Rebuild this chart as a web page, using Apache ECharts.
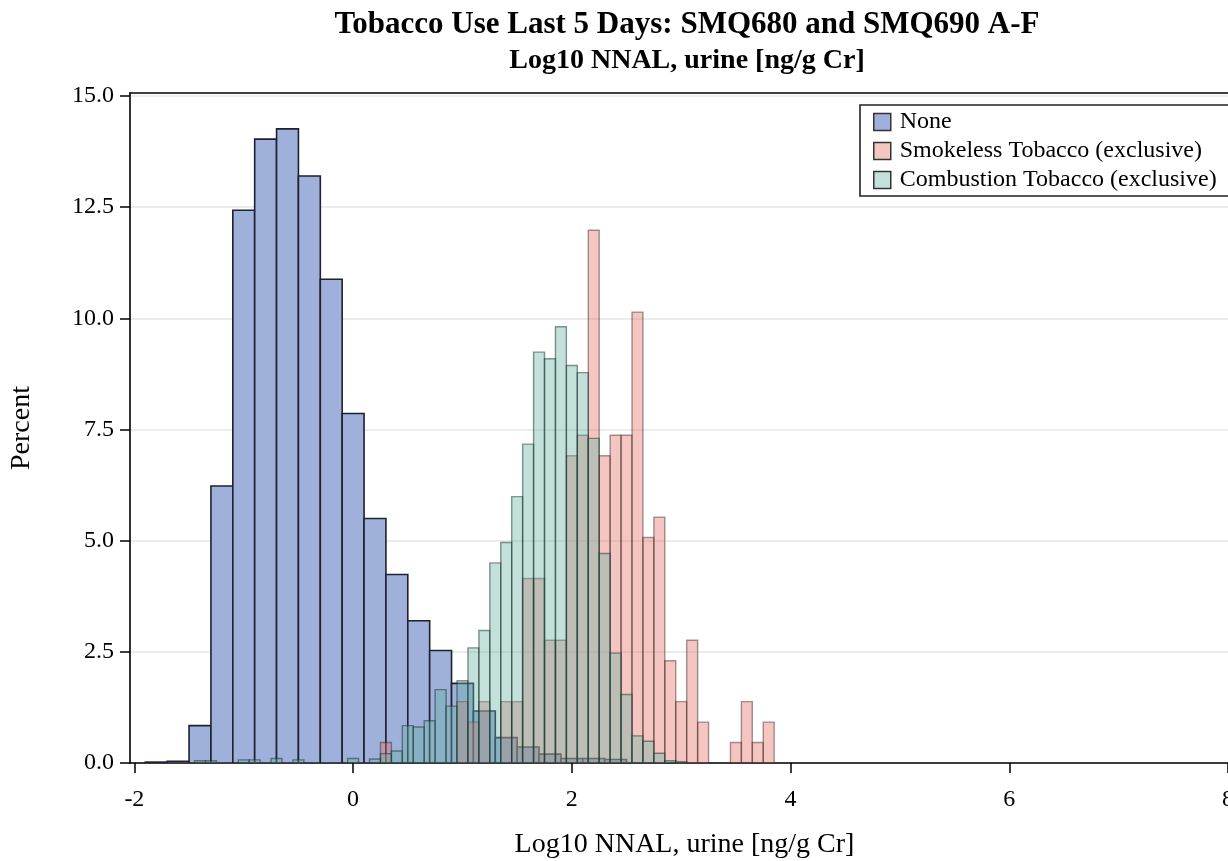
<!DOCTYPE html>
<html>
<head>
<meta charset="utf-8">
<script src="https://cdn.jsdelivr.net/npm/echarts@6/dist/echarts.min.js"></script>
<style>
html,body{margin:0;padding:0;background:#fff;overflow:hidden;}
#chart{width:1228px;height:861px;}
</style>
</head>
<body>
<div id="chart"></div>
<script>
// ---- data (bin centers, percent) ----
const noneBinWidth = 0.2;
const noneCenters = [-1.8,-1.6,-1.4,-1.2,-1.0,-0.8,-0.6,-0.4,-0.2,0.0,0.2,0.4,0.6,0.8,1.0,1.2,1.4,1.6,1.8,2.0,2.2,2.4];
const noneValues  = [0.02,0.04,0.84,6.23,12.43,14.03,14.26,13.2,10.88,7.86,5.5,4.24,3.2,2.53,1.79,1.17,0.57,0.36,0.2,0.1,0.1,0.08];

const smokelessBinWidth = 0.1;
const smokelessCenters = [0.3,1.0,1.1,1.2,1.4,1.5,1.6,1.7,1.8,1.9,2.0,2.1,2.2,2.3,2.4,2.5,2.6,2.7,2.8,2.9,3.0,3.1,3.2,3.5,3.6,3.7,3.8];
const smokelessValues  = [0.46,1.38,0.92,1.38,1.38,1.38,4.15,4.15,2.76,2.76,6.91,7.37,11.98,6.91,7.37,7.37,10.14,5.07,5.53,2.30,1.38,2.76,0.92,0.46,1.38,0.46,0.92];

const combustionBinWidth = 0.1;
const combustionCenters = [-1.4,-1.3,-1.0,-0.9,-0.7,-0.5,0.0,0.2,0.3,0.4,0.5,0.6,0.7,0.8,0.9,1.0,1.1,1.2,1.3,1.4,1.5,1.6,1.7,1.8,1.9,2.0,2.1,2.2,2.3,2.4,2.5,2.6,2.7,2.8,2.9,3.0];
const combustionValues  = [0.05,0.05,0.07,0.07,0.1,0.07,0.1,0.09,0.21,0.27,0.84,0.81,0.95,1.65,1.28,1.85,2.59,2.98,4.5,4.96,5.99,7.17,9.24,9.09,9.81,8.94,8.78,7.30,4.71,2.47,1.54,0.61,0.49,0.22,0.05,0.03];

const xTickValues = [-2,0,2,4,6,8];
const yTickValues = [0,2.5,5,7.5,10,12.5,15];

const seriesNames = ['None','Smokeless Tobacco (exclusive)','Combustion Tobacco (exclusive)'];

function bins(centers, values, w){
  return centers.map((c,i)=>[c - w/2, c + w/2, values[i]]);
}

const FONT = 'Liberation Serif, Times New Roman, serif';

const styles = [
  {fill:'#9fb1da', stroke:'#1e2130', lineWidth:1.6},
  {fill:'rgba(230,113,100,0.40)', stroke:'rgba(50,30,30,0.45)', lineWidth:1.4},
  {fill:'rgba(105,177,165,0.40)', stroke:'rgba(20,45,40,0.5)', lineWidth:1.4}
];
const legendColors = ['#9fb1da','#f4c6c1','#c3e0db'];

function histSeries(name, data, st){
  return {
    type:'custom',
    name:name,
    clip:true,
    encode:{x:[0,1], y:2},
    data:data,
    itemStyle:{color:st.fill, borderColor:st.stroke, borderWidth:st.lineWidth},
    renderItem:function(params, api){
      const p0 = api.coord([api.value(0), api.value(2)]);
      const p1 = api.coord([api.value(1), 0]);
      return {
        type:'rect',
        shape:{x:p0[0], y:p0[1], width:p1[0]-p0[0], height:p1[1]-p0[1]},
        style:{fill:st.fill, stroke:st.stroke, lineWidth:st.lineWidth}
      };
    }
  };
}

const chart = echarts.init(document.getElementById('chart'), null, {renderer:'canvas'});
chart.setOption({
  animation:false,
  backgroundColor:'#fff',
  title:[
    {text:'Tobacco Use Last 5 Days: SMQ680 and SMQ690 A-F', left:682, top:4, textAlign:'center',
     textStyle:{fontFamily:FONT, fontSize:31, fontWeight:'bold', color:'#000'}},
    {text:'Log10 NNAL, urine [ng/g Cr]', left:682, top:42, textAlign:'center',
     textStyle:{fontFamily:FONT, fontSize:28, fontWeight:'bold', color:'#000'}}
  ],
  legend:{
    orient:'vertical', left:860, top:105,
    padding:[5,14,4,13], itemGap:5, itemWidth:17, itemHeight:17,
    borderColor:'#222', borderWidth:1.6, backgroundColor:'#fff',
    textStyle:{fontFamily:FONT, fontSize:24, color:'#000', padding:[0,0,0,4]},
    data:seriesNames.map((n,i)=>({name:n, icon:'rect',
      itemStyle:{color:legendColors[i], borderColor:'#333', borderWidth:1.5}}))
  },
  grid:{left:130, width:1109, top:93, bottom:98, containLabel:false, outerBoundsMode:'none'},
  xAxis:[{
    type:'value', min:-2.04, max:8.1,
    name:'Log10 NNAL, urine [ng/g Cr]', nameLocation:'middle', nameGap:68,
    nameTextStyle:{fontFamily:FONT, fontSize:28, color:'#000'},
    axisLine:{show:true, onZero:false, lineStyle:{color:'#000', width:1.6}},
    axisTick:{show:true, length:10, customValues:xTickValues, lineStyle:{color:'#000', width:1.5}},
    axisLabel:{customValues:xTickValues, fontFamily:FONT, fontSize:24, color:'#000', margin:25},
    splitLine:{show:false}
  },{
    type:'value', min:-2.04, max:8.1, position:'top',
    axisLine:{show:true, onZero:false, lineStyle:{color:'#000', width:1.6}},
    axisTick:{show:false}, axisLabel:{show:false}, splitLine:{show:false}
  }],
  yAxis:{
    type:'value', min:0, max:15.0675, interval:2.5,
    name:'Percent', nameLocation:'middle', nameGap:94, nameRotate:90,
    nameTextStyle:{fontFamily:FONT, fontSize:28, color:'#000'},
    axisLine:{show:true, onZero:false, lineStyle:{color:'#000', width:1.6}},
    axisTick:{show:true, length:10, customValues:yTickValues, lineStyle:{color:'#000', width:1.5}},
    axisLabel:{customValues:yTickValues, fontFamily:FONT, fontSize:24, color:'#000', margin:16,
      formatter:v=>v.toFixed(1)},
    splitLine:{show:true, lineStyle:{color:'#e6e6e6', width:1.5}}
  },
  series:[
    histSeries(seriesNames[0], bins(noneCenters, noneValues, noneBinWidth), styles[0]),
    histSeries(seriesNames[1], bins(smokelessCenters, smokelessValues, smokelessBinWidth), styles[1]),
    histSeries(seriesNames[2], bins(combustionCenters, combustionValues, combustionBinWidth), styles[2])
  ]
});
</script>
</body>
</html>
